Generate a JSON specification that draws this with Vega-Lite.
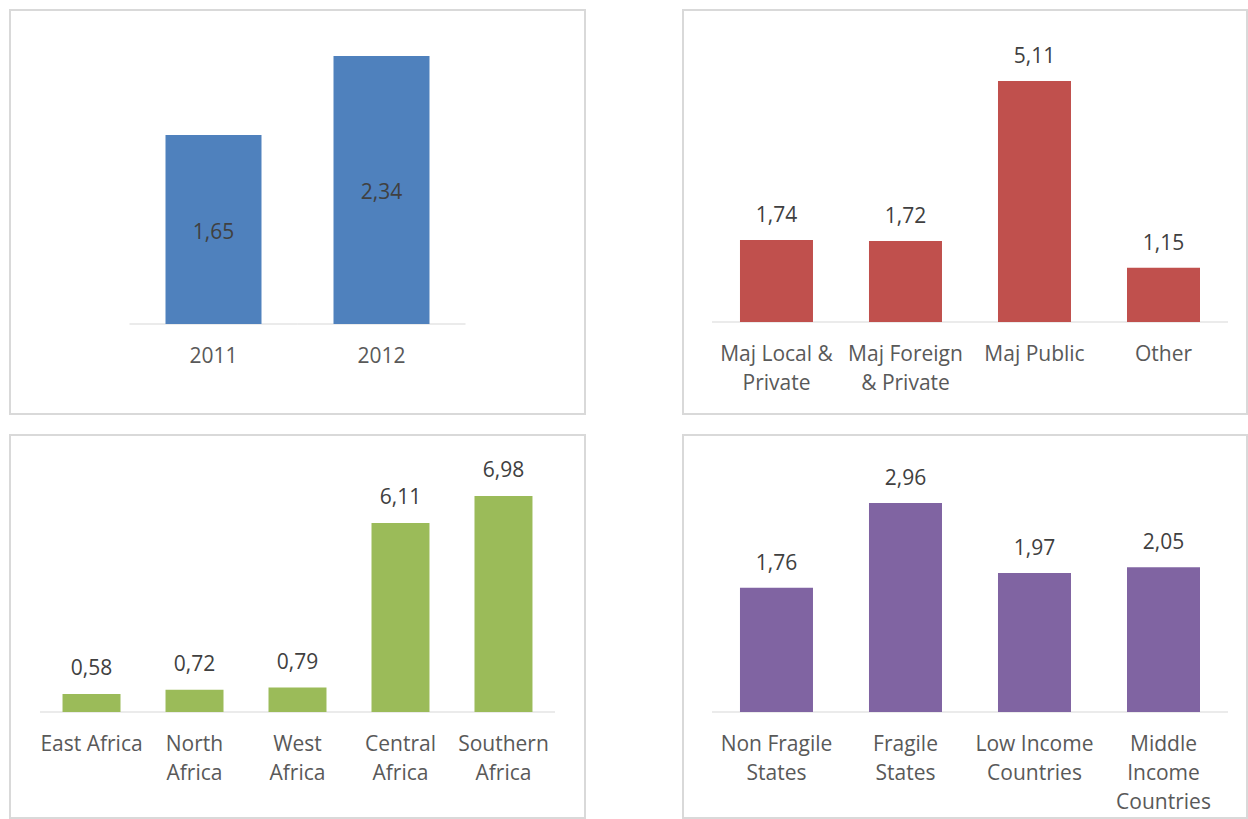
{
  "$schema": "https://vega.github.io/schema/vega-lite/v6.json",
  "padding": {"left": 9, "top": 9, "right": 0, "bottom": 0},
  "background": "white",
  "config": {
    "view": {"stroke": "#D9D9D9", "strokeWidth": 2},
    "font": "Open Sans",
    "locale": {"number": {"decimal": ",", "thousands": ".", "grouping": [3], "currency": ["", " €"]}},
    "axis": {"labelFont": "Open Sans", "labelFontSize": 21, "labelColor": "#595959", "labelLineHeight": 29, "labelPadding": 21, "labelOverlap": false, "domain": false, "ticks": false, "grid": false, "title": null, "labelAngle": 0},
    "text": {"font": "Open Sans", "fontSize": 21, "color": "#404040"}
  },
  "datasets": {
    "period": [
      {"cat": "2011", "value": 1.65},
      {"cat": "2012", "value": 2.34}
    ],
    "ownership": [
      {"cat": "Maj Local & Private", "value": 1.74},
      {"cat": "Maj Foreign & Private", "value": 1.72},
      {"cat": "Maj Public", "value": 5.11},
      {"cat": "Other", "value": 1.15}
    ],
    "region": [
      {"cat": "East Africa", "value": 0.58},
      {"cat": "North Africa", "value": 0.72},
      {"cat": "West Africa", "value": 0.79},
      {"cat": "Central Africa", "value": 6.11},
      {"cat": "Southern Africa", "value": 6.98}
    ],
    "status": [
      {"cat": "Non Fragile States", "value": 1.76},
      {"cat": "Fragile States", "value": 2.96},
      {"cat": "Low Income Countries", "value": 1.97},
      {"cat": "Middle Income Countries", "value": 2.05}
    ]
  },
  "spacing": 19,
  "vconcat": [
    {
      "spacing": 96,
      "hconcat": [
        {
          "width": 575, "height": 404,
          "data": {"name": "period"},
          "encoding": {
            "x": {"field": "cat", "type": "nominal", "sort": null,
                  "scale": {"paddingInner": 0.4286, "paddingOuter": 0.9256},
                  "axis": {"offset": -90}}
          },
          "resolve": {"scale": {"y": "independent"}},
          "layer": [
            {"mark": {"type": "tick", "color": "#D9D9D9", "size": 168, "thickness": 1.5},
             "encoding": {"y": {"datum": 0, "type": "quantitative", "scale": {"domain": [-0.7858, 2.7417], "nice": false, "zero": false}, "axis": null}}},
            {"mark": {"type": "bar", "color": "#4F81BD"},
             "encoding": {"y": {"field": "value", "type": "quantitative", "scale": {"domain": [-0.7858, 2.7417], "nice": false, "zero": false}, "axis": null}}},
            {"mark": {"type": "text", "baseline": "middle", "dy": 3},
             "encoding": {"y": {"field": "value", "type": "quantitative", "scale": {"domain": [-1.5716, 5.4834], "nice": false, "zero": false}, "axis": null},
                          "text": {"field": "value", "type": "quantitative", "format": ".2f"}}}
          ]
        },
        {
          "width": 564, "height": 404,
          "data": {"name": "ownership"},
          "encoding": {
            "x": {"field": "cat", "type": "nominal", "sort": null,
                  "scale": {"paddingInner": 0.4341, "paddingOuter": 0.403, "align": 0.548},
                  "axis": {"offset": -92, "labelExpr": "datum.value == 'Maj Local & Private' ? ['Maj Local &', 'Private'] : datum.value == 'Maj Foreign & Private' ? ['Maj Foreign', '& Private'] : datum.value"}}
          },
          "layer": [
            {"mark": {"type": "tick", "color": "#D9D9D9", "size": 129, "thickness": 1.5},
             "encoding": {"y": {"datum": 0, "type": "quantitative", "scale": {"domain": [-1.951, 6.616], "nice": false, "zero": false}, "axis": null}}},
            {"mark": {"type": "bar", "color": "#C0504D"},
             "encoding": {"y": {"field": "value", "type": "quantitative", "axis": null}}},
            {"mark": {"type": "text", "baseline": "middle", "dy": -24},
             "encoding": {"y": {"field": "value", "type": "quantitative", "axis": null},
                          "text": {"field": "value", "type": "quantitative", "format": ".2f"}}}
          ]
        }
      ]
    },
    {
      "spacing": 96,
      "hconcat": [
        {
          "width": 575, "height": 383,
          "data": {"name": "region"},
          "encoding": {
            "x": {"field": "cat", "type": "nominal", "sort": null,
                  "scale": {"paddingInner": 0.437, "paddingOuter": 0.51},
                  "axis": {"offset": -106, "labelExpr": "datum.value == 'East Africa' ? datum.value : split(datum.value, ' ')"}}
          },
          "layer": [
            {"mark": {"type": "tick", "color": "#D9D9D9", "size": 103, "thickness": 1.5},
             "encoding": {"y": {"datum": 0, "type": "quantitative", "scale": {"domain": [-3.425, 8.95], "nice": false, "zero": false}, "axis": null}}},
            {"mark": {"type": "bar", "color": "#9BBB59"},
             "encoding": {"y": {"field": "value", "type": "quantitative", "axis": null}}},
            {"mark": {"type": "text", "baseline": "middle", "dy": -25},
             "encoding": {"y": {"field": "value", "type": "quantitative", "axis": null},
                          "text": {"field": "value", "type": "quantitative", "format": ".2f"}}}
          ]
        },
        {
          "width": 564, "height": 383,
          "data": {"name": "status"},
          "encoding": {
            "x": {"field": "cat", "type": "nominal", "sort": null,
                  "scale": {"paddingInner": 0.4341, "paddingOuter": 0.403, "align": 0.548},
                  "axis": {"offset": -106, "labelExpr": "datum.value == 'Non Fragile States' ? ['Non Fragile', 'States'] : datum.value == 'Low Income Countries' ? ['Low Income', 'Countries'] : split(datum.value, ' ')"}}
          },
          "layer": [
            {"mark": {"type": "tick", "color": "#D9D9D9", "size": 129, "thickness": 1.5},
             "encoding": {"y": {"datum": 0, "type": "quantitative", "scale": {"domain": [-1.501, 3.924], "nice": false, "zero": false}, "axis": null}}},
            {"mark": {"type": "bar", "color": "#8064A2"},
             "encoding": {"y": {"field": "value", "type": "quantitative", "axis": null}}},
            {"mark": {"type": "text", "baseline": "middle", "dy": -24},
             "encoding": {"y": {"field": "value", "type": "quantitative", "axis": null},
                          "text": {"field": "value", "type": "quantitative", "format": ".2f"}}}
          ]
        }
      ]
    }
  ]
}
